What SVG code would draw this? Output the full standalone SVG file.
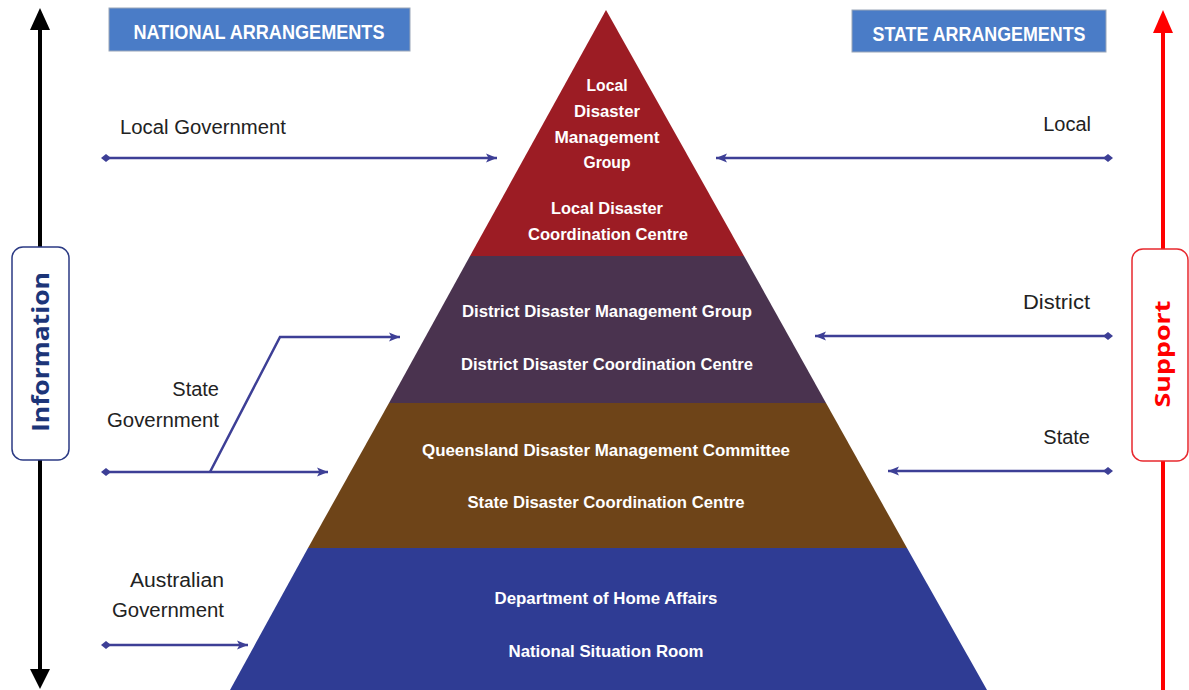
<svg xmlns="http://www.w3.org/2000/svg" width="1189" height="690" viewBox="0 0 1189 690">
<style>
.hdr{fill:#4A7CC7;stroke:#9aa6b8;stroke-width:1}
.hdrt{font-family:"Liberation Sans",Arial,sans-serif;font-weight:bold;font-size:21px;fill:#ffffff;text-anchor:middle}
.lbl{font-family:"Liberation Sans",Arial,sans-serif;font-size:20px;fill:#222222}
.pt{font-family:"Liberation Sans",Arial,sans-serif;font-weight:bold;font-size:17px;fill:#ffffff;text-anchor:middle}
.conn{fill:none;stroke:#3D3F96;stroke-width:2.5}
</style>
<defs>
<marker id="ah" markerUnits="userSpaceOnUse" markerWidth="12" markerHeight="10" refX="11" refY="5" orient="auto"><path d="M0,0.5 L11,5 L0,9.5 L2.5,5 z" fill="#3D3F96"/></marker>
<marker id="dm" markerUnits="userSpaceOnUse" markerWidth="10" markerHeight="10" refX="5" refY="5" orient="auto"><path d="M0,5 L5,1 L10,5 L5,9 z" fill="#3D3F96"/></marker>
</defs>

<g id="pyramid">
<polygon points="606,10 744,256 470,256" fill="#9C1C24"/>
<polygon points="470,256 744,256 826,403 389,403" fill="#4A334F"/>
<polygon points="389,403 826,403 907,548 308,548" fill="#6E4418"/>
<polygon points="308,548 907,548 987,690 230,690" fill="#2F3C94"/>
</g>

<g id="node-local">
<text class="pt" x="607" y="91" textLength="41" lengthAdjust="spacingAndGlyphs">Local</text>
<text class="pt" x="607" y="117" textLength="66" lengthAdjust="spacingAndGlyphs">Disaster</text>
<text class="pt" x="607" y="143" textLength="105" lengthAdjust="spacingAndGlyphs">Management</text>
<text class="pt" x="607" y="168" textLength="47" lengthAdjust="spacingAndGlyphs">Group</text>
<text class="pt" x="607" y="214" textLength="112" lengthAdjust="spacingAndGlyphs">Local Disaster</text>
<text class="pt" x="608" y="240" textLength="160" lengthAdjust="spacingAndGlyphs">Coordination Centre</text>
</g>
<g id="node-district">
<text class="pt" x="607" y="317" textLength="290" lengthAdjust="spacingAndGlyphs">District Disaster Management Group</text>
<text class="pt" x="607" y="370" textLength="292" lengthAdjust="spacingAndGlyphs">District Disaster Coordination Centre</text>
</g>
<g id="node-state">
<text class="pt" x="606" y="456" textLength="368" lengthAdjust="spacingAndGlyphs">Queensland Disaster Management Committee</text>
<text class="pt" x="606" y="508" textLength="277" lengthAdjust="spacingAndGlyphs">State Disaster Coordination Centre</text>
</g>
<g id="node-national">
<text class="pt" x="606" y="604" textLength="223" lengthAdjust="spacingAndGlyphs">Department of Home Affairs</text>
<text class="pt" x="606" y="657" textLength="195" lengthAdjust="spacingAndGlyphs">National Situation Room</text>
</g>

<g id="hdr-national">
<rect class="hdr" x="109" y="8" width="301" height="43"/>
<text class="hdrt" x="259" y="39" textLength="251" lengthAdjust="spacingAndGlyphs">NATIONAL ARRANGEMENTS</text>
</g>
<g id="hdr-state">
<rect class="hdr" x="852" y="10" width="254" height="42"/>
<text class="hdrt" x="979" y="41" textLength="213" lengthAdjust="spacingAndGlyphs">STATE ARRANGEMENTS</text>
</g>

<g id="labels">
<text class="lbl" x="120" y="134" textLength="166" lengthAdjust="spacingAndGlyphs">Local Government</text>
<text class="lbl" x="219" y="396" text-anchor="end">State</text>
<text class="lbl" x="219" y="427" text-anchor="end" textLength="112" lengthAdjust="spacingAndGlyphs">Government</text>
<text class="lbl" x="224" y="587" text-anchor="end" textLength="94" lengthAdjust="spacingAndGlyphs">Australian</text>
<text class="lbl" x="224" y="617" text-anchor="end" textLength="112" lengthAdjust="spacingAndGlyphs">Government</text>
<text class="lbl" x="1091" y="131" text-anchor="end">Local</text>
<text class="lbl" x="1090" y="309" text-anchor="end" textLength="67" lengthAdjust="spacingAndGlyphs">District</text>
<text class="lbl" x="1090" y="444" text-anchor="end">State</text>
</g>

<g id="info-axis">
<line x1="40" y1="26" x2="40" y2="672" stroke="#000" stroke-width="4"/>
<path d="M40,8 L50,30 L30,30 z" fill="#000"/>
<path d="M40,689 L50,669 L30,669 z" fill="#000"/>
<rect x="12" y="247" width="57" height="213" rx="11" fill="#fff" stroke="#2B3A84" stroke-width="1.5"/>
<text x="0" y="0" transform="translate(49,352) rotate(-90)" font-family="'Open Sans','Liberation Sans',sans-serif" font-weight="bold" font-size="24" fill="#1C3578" text-anchor="middle" textLength="160" lengthAdjust="spacingAndGlyphs">Information</text>
</g>

<g id="support-axis">
<line x1="1163" y1="28" x2="1163" y2="690" stroke="#FF0000" stroke-width="4"/>
<path d="M1163,10 L1173,33 L1153,33 z" fill="#FF0000"/>
<rect x="1132" y="249" width="56" height="212" rx="11" fill="#fff" stroke="#E8282E" stroke-width="1.5"/>
<text x="0" y="0" transform="translate(1170,354) rotate(-90)" font-family="'Open Sans','Liberation Sans',sans-serif" font-weight="bold" font-size="22" fill="#FF0000" text-anchor="middle" textLength="107" lengthAdjust="spacingAndGlyphs">Support</text>
</g>

<g id="connectors">
<line class="conn" x1="106" y1="158" x2="497" y2="158" marker-start="url(#dm)" marker-end="url(#ah)"/>
<line class="conn" x1="1108" y1="158" x2="716" y2="158" marker-start="url(#dm)" marker-end="url(#ah)"/>
<line class="conn" x1="106" y1="472" x2="328" y2="472" marker-start="url(#dm)" marker-end="url(#ah)"/>
<polyline class="conn" points="210,472 280,337 400,337" marker-end="url(#ah)"/>
<line class="conn" x1="1108" y1="336" x2="815" y2="336" marker-start="url(#dm)" marker-end="url(#ah)"/>
<line class="conn" x1="1108" y1="471" x2="888" y2="471" marker-start="url(#dm)" marker-end="url(#ah)"/>
<line class="conn" x1="106" y1="645" x2="248" y2="645" marker-start="url(#dm)" marker-end="url(#ah)"/>
</g>
</svg>
